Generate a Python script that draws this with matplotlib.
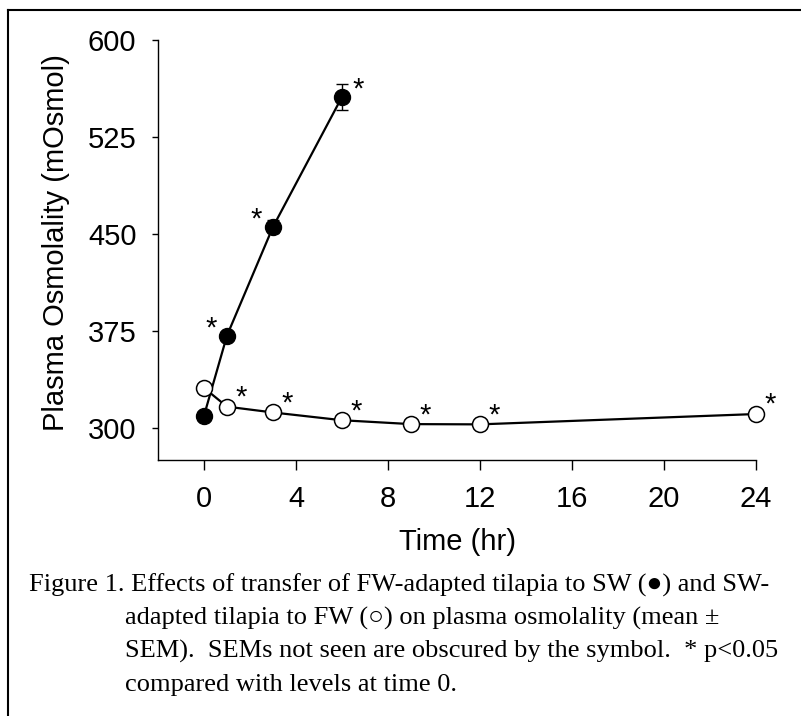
import matplotlib
matplotlib.use("Agg")
import matplotlib.pyplot as plt
from matplotlib.lines import Line2D

# Data
time_sw = [0, 1, 3, 6]
osm_sw = [309.5, 371.5, 455.5, 556.0]
sem_sw = [2.0, 3.0, 5.0, 10.0]
sig_sw = [False, True, True, True]

time_fw = [0, 1, 3, 6, 9, 12, 24]
osm_fw = [331.0, 316.5, 312.0, 306.0, 303.0, 302.8, 310.8]
sem_fw = [2.0, 2.0, 2.0, 2.0, 2.0, 2.0, 2.0]
sig_fw = [False, True, True, True, True, True, True]

x_ticks = [0, 4, 8, 12, 16, 20, 24]
y_ticks = [300, 375, 450, 525, 600]

caption_lines = [
    "Figure 1. Effects of transfer of FW-adapted tilapia to SW (\u25cf) and SW-",
    "adapted tilapia to FW (\u25cb) on plasma osmolality (mean \u00b1",
    "SEM).  SEMs not seen are obscured by the symbol.  * p<0.05",
    "compared with levels at time 0.",
]

plt.rcParams['font.family'] = ['Liberation Sans', 'DejaVu Sans']

fig = plt.figure(figsize=(8.01, 7.16), dpi=100)
ax = fig.add_axes([158 / 801, 1 - 460 / 716, 598 / 801, 420 / 716])

# Seawater transfer (filled)
sw = ax.errorbar(time_sw, osm_sw, yerr=sem_sw, color='black', lw=1.6,
                 marker='o', ms=11.5, mfc='black', mec='black', mew=1.0,
                 ecolor='black', elinewidth=1.0, capsize=4, capthick=1.0, zorder=3)
# Freshwater transfer (open)
fw = ax.errorbar(time_fw, osm_fw, yerr=sem_fw, color='black', lw=1.6,
                 marker='o', ms=11.5, mfc='white', mec='black', mew=1.1,
                 ecolor='black', elinewidth=1.0, capsize=4, capthick=1.0, zorder=4)
for container in (sw, fw):
    for artist in container.get_children():
        artist.set_clip_on(False)

# significance stars
sw_offsets = [None, (-16, 7), (-17, 7), (16, 7)]
for t, v, s, off in zip(time_sw, osm_sw, sig_sw, sw_offsets):
    if s:
        ax.annotate('*', (t, v), xytext=off, textcoords='offset pixels',
                    ha='center', va='center', fontsize=21, zorder=5,
                    annotation_clip=False)
for t, v, s in zip(time_fw, osm_fw, sig_fw):
    if s:
        ax.annotate('*', (t, v), xytext=(14, 9), textcoords='offset pixels',
                    ha='center', va='center', fontsize=21, zorder=5,
                    annotation_clip=False)

ax.set_xlim(-2, 24)
ax.set_ylim(275.25, 600)
ax.set_xticks(x_ticks)
ax.set_yticks(y_ticks)
ax.spines['top'].set_visible(False)
ax.spines['right'].set_visible(False)
for sp in ['left', 'bottom']:
    ax.spines[sp].set_linewidth(1.0)
ax.tick_params(axis='x', direction='out', length=7, width=1.0, pad=11, labelsize=21)
ax.tick_params(axis='y', direction='out', length=4.5, width=1.0, pad=11, labelsize=21)

ax.set_xlabel('Time (hr)', fontsize=21)
ax.xaxis.set_label_coords(0.5, -0.161)
ax.set_ylabel('Plasma Osmolality (mOsmol)', fontsize=21)
ax.yaxis.set_label_coords(-0.147, 0.517)

# caption
serif = ['Liberation Serif', 'DejaVu Serif']
baselines = [592, 625, 658, 691]
for i, (line, yb) in enumerate(zip(caption_lines, baselines)):
    xl = 29 if i == 0 else 125
    fig.text(xl / 801, 1 - yb / 716, line, family=serif, fontsize=19,
             ha='left', va='baseline')

# outer frame (top and left edges visible)
fig.add_artist(Line2D([8 / 801, 8 / 801], [0, 1 - 10 / 716], color='black', lw=1.5,
                      transform=fig.transFigure))
fig.add_artist(Line2D([8 / 801, 1], [1 - 10 / 716, 1 - 10 / 716], color='black', lw=1.5,
                      transform=fig.transFigure))

fig.savefig('out.png', dpi=100)
